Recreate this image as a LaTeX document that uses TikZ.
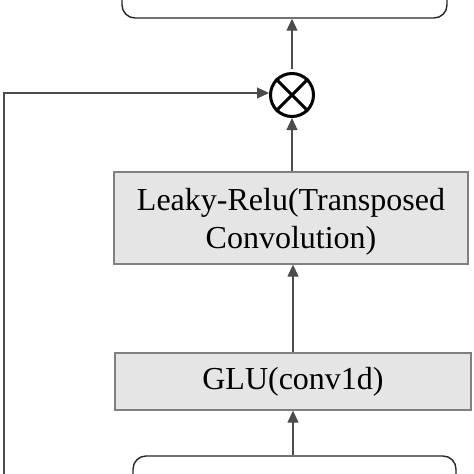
\documentclass[tikz,border=0pt]{standalone}
\usepackage{fontspec}
\setmainfont{Liberation Serif}
\usetikzlibrary{arrows.meta}
\begin{document}
\begin{tikzpicture}[x=1pt,y=-1pt,
  graybox/.style={draw=black!50, line width=1.3pt, fill=black!10, inner sep=0pt,
    font=\fontsize{32}{38}\selectfont, align=center, text=black},
  roundbox/.style={draw=black!85, line width=1.4pt, rounded corners=13pt, inner sep=0pt},
  conn/.style={draw=black!70, line width=1.1pt, -{Triangle[length=12pt,width=11pt]}},
  mult/.style={circle, draw=black, line width=3pt, minimum size=43pt, inner sep=0pt}
]
\useasboundingbox (0,0) rectangle (474,474);
\clip (0,0) rectangle (474,474);
\node[roundbox, minimum width=325pt, minimum height=70pt] (top) at (284.5,-17) {};
\node[mult] (mul) at (292,95) {};
\draw[line width=3pt] (mul.45) -- (mul.225) (mul.135) -- (mul.315);
\node[graybox, minimum width=354pt, minimum height=92pt] (leaky) at (291,218) {};
\node[font=\fontsize{32}{38}\selectfont, align=center, inner sep=0pt] (leakytxt) at (291,222)
  {Leaky-Relu(Transposed\\Convolution)};
\node[graybox, minimum width=356pt, minimum height=57pt] (glu) at (293,381.5) {GLU(conv1d)};
\node[roundbox, minimum width=323pt, minimum height=70pt] (bot) at (294.5,491) {};
\coordinate (lb) at (4,500);
\coordinate (lt) at (4,93);
\draw[conn] (bot.north -| 293,0) -- (glu.south -| 293,0);
\draw[conn] (glu.north -| 293,0) -- (leaky.south -| 293,0);
\draw[conn] (leaky.north -| 292,0) -- (mul.south);
\draw[conn, shorten <=3pt] (mul.north) -- (top.south -| mul);
\draw[conn] (lb) -- (lt) -- (lt -| mul.west);
\end{tikzpicture}
\end{document}
